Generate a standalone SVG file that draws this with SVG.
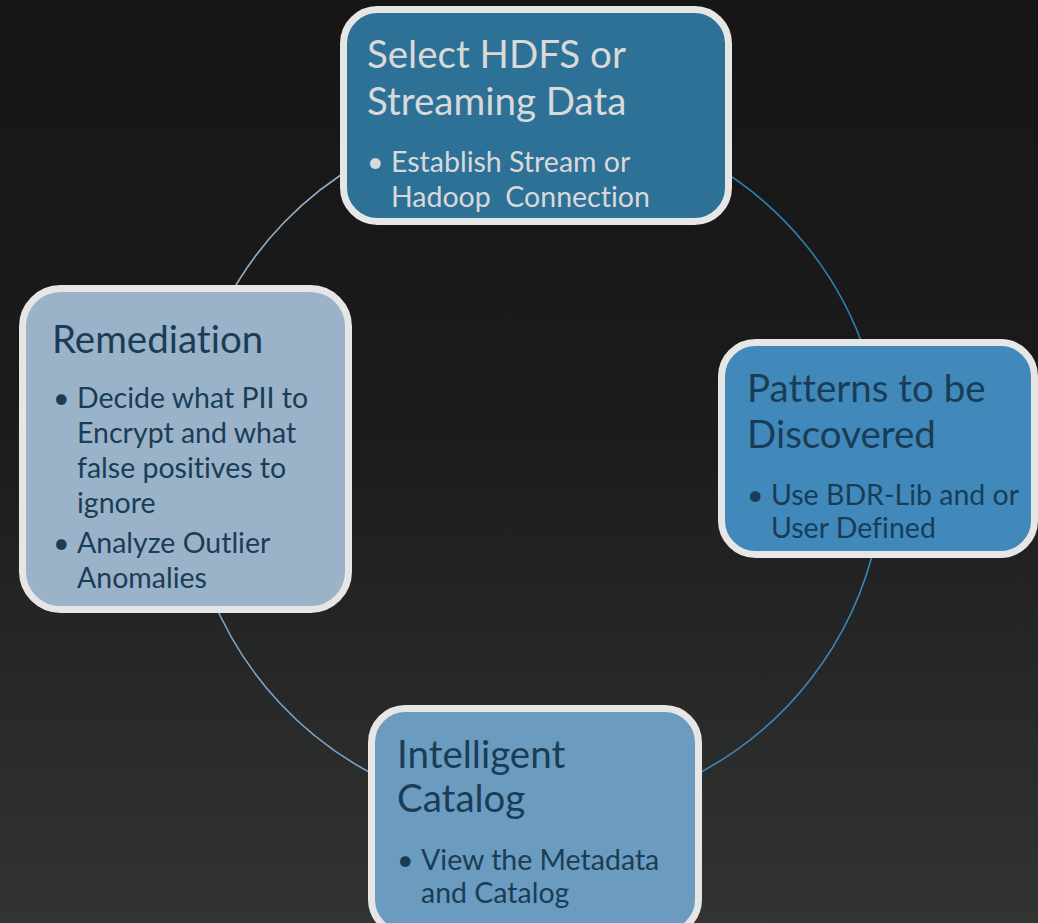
<svg xmlns="http://www.w3.org/2000/svg" width="1038" height="923" viewBox="0 0 1038 923">
<defs>
<linearGradient id="bg" x1="0" y1="0" x2="0" y2="1">
<stop offset="0" stop-color="#161616"/>
<stop offset="0.45" stop-color="#1b1b1b"/>
<stop offset="1" stop-color="#323333"/>
</linearGradient>
<style>
.box{stroke:#e6e6e6;stroke-width:7}
text{font-family:Lato,"Liberation Sans",sans-serif;font-variant-ligatures:none;font-feature-settings:"liga" 0}
.t{font-size:38.5px}
.b{font-size:28.5px}
.light{fill:#d9d9d9}
.dark{fill:#1a3d57}
.arc{fill:none;stroke-width:1.6}
</style>
</defs>
<rect width="1038" height="923" fill="url(#bg)"/>
<g id="connectors">
<path class="arc" stroke="#8fb0cc" d="M360.5,162.8 A349,349 0 0 0 226.9,301.1"/>
<path class="arc" stroke="#2c7fb0" d="M709.5,162.8 A349,349 0 0 1 866.9,357.2"/>
<path class="arc" stroke="#3b88bd" d="M876.4,537.6 A349,349 0 0 1 688,778.7"/>
<path class="arc" stroke="#79a4c8" d="M382,778.7 A349,349 0 0 1 211.4,595.7"/>
</g>
<g id="node-select">
<rect class="box" x="343.5" y="9.5" width="385" height="212" rx="34" fill="#2d7197"/>
<text class="t light" x="367" y="68">Select HDFS or</text>
<text class="t light" x="367" y="115">Streaming Data</text>
<text class="b light" x="367" y="172">•<tspan x="391">Establish Stream or</tspan></text>
<text class="b light" x="391" y="207" xml:space="preserve">Hadoop  Connection</text>
</g>
<g id="node-patterns">
<rect class="box" x="721.5" y="342.5" width="313" height="212" rx="34" fill="#4189bb"/>
<text class="t dark" x="747" y="402">Patterns to be</text>
<text class="t dark" x="747" y="448">Discovered</text>
<text class="b dark" x="747" y="505">•<tspan x="771">Use BDR-Lib and or</tspan></text>
<text class="b dark" x="771" y="538">User Defined</text>
</g>
<g id="node-catalog">
<rect class="box" x="371.5" y="708.5" width="327" height="225" rx="34" fill="#6c9bc0"/>
<text class="t dark" x="397" y="768">Intelligent</text>
<text class="t dark" x="397" y="812">Catalog</text>
<text class="b dark" x="397" y="870">•<tspan x="421">View the Metadata</tspan></text>
<text class="b dark" x="421" y="903">and Catalog</text>
</g>
<g id="node-remediation">
<rect class="box" x="22.5" y="288.5" width="326" height="321" rx="38" fill="#9bb3c9"/>
<text class="t dark" x="52" y="353">Remediation</text>
<text class="b dark" x="53" y="408">•<tspan x="77">Decide what PII to</tspan></text>
<text class="b dark" x="77" y="443">Encrypt and what</text>
<text class="b dark" x="77" y="478">false positives to</text>
<text class="b dark" x="77" y="513">ignore</text>
<text class="b dark" x="53" y="553">•<tspan x="77">Analyze Outlier</tspan></text>
<text class="b dark" x="77" y="588">Anomalies</text>
</g>
</svg>
